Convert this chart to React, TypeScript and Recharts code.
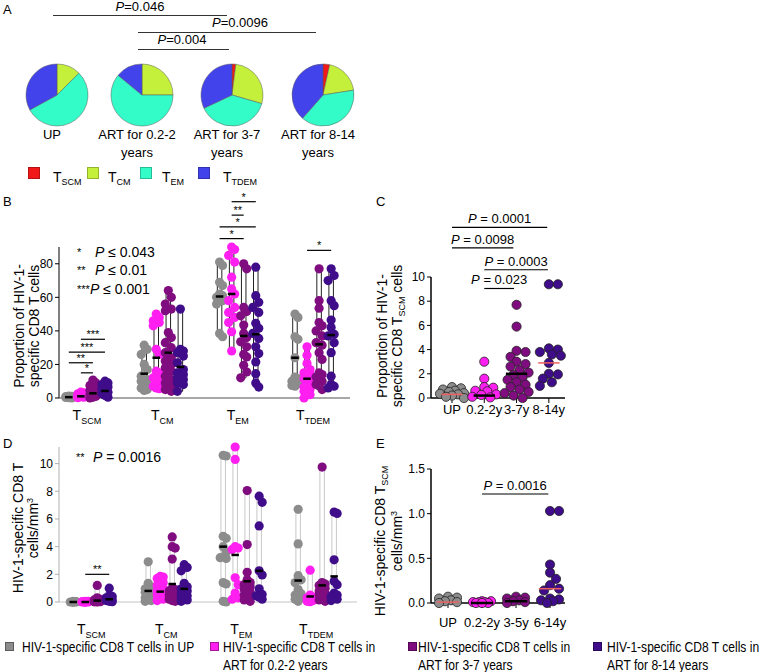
import React from "react";
import {
  PieChart,
  Pie,
  Cell,
  ScatterChart,
  Scatter,
  XAxis,
  YAxis,
  ReferenceArea,
  ReferenceLine,
} from "recharts";

const FONT = "Arial, 'Liberation Sans', sans-serif";

// ---- panel A: subset composition (%) ----
const subsetSubs = ["SCM", "CM", "EM", "TDEM"];
const subsetColors = ["#f01818", "#c4f03c", "#33fcc8", "#4343ec"];
const pieUP = [0, 12.5, 54.5, 33];
const pie02to2 = [0, 25, 61, 14];
const pie3to7 = [2, 27.5, 38.5, 32];
const pie8to14 = [3.5, 19, 39, 38.5];
const pieLabels = [["UP"], ["ART for 0.2-2", "years"], ["ART for 3-7", "years"], ["ART for 8-14", "years"]];

// ---- groups ----
const groupColors = ["#8c8c8c", "#ff1ff0", "#800d80", "#3f0c8a"];
const groupNames = [
  ["HIV-1-specific CD8 T cells in UP"],
  ["HIV-1-specific CD8 T cells in", "ART for 0.2-2 years"],
  ["HIV-1-specific CD8 T cells in", "ART for 3-7 years"],
  ["HIV-1-specific CD8 T cells in", "ART for 8-14 years"],
];
const groupOffsets = [-0.24, -0.08, 0.08, 0.24];

// ---- panel B: proportion (%) per subset [SCM, CM, EM, TDEM] ----
const propUP = [
  [1.2, 1.0, 0.8, 0.5, 0.5, 0.3, 0.2, 0],
  [31.5, 29, 26, 20, 17, 13, 11, 10, 9.5, 8, 6, 5, 4.5],
  [81, 79, 69, 67, 62, 61, 60, 58, 56, 38.5, 36.5],
  [50, 48, 36.5, 35, 24, 12.5, 11.5, 10, 8.5, 7.5, 7],
];
const prop02 = [
  [3.5, 3, 2.5, 2, 1.3, 1, 0.8, 0.5, 0.2],
  [50, 48, 46, 45, 43, 29, 26, 16, 15, 12, 11, 10, 8, 7, 6, 5.5],
  [90, 88.5, 85, 81, 72, 65, 62, 58, 54, 51, 48, 45, 39.5, 28],
  [30.5, 25.5, 20.5, 17, 15, 14, 11.5, 9.5, 6.5, 5, 4, 3, 2, 0],
];
const prop37 = [
  [10.7, 9, 7.5, 6.5, 5.5, 4.5, 3.5, 3, 2, 1, 0.5, 0],
  [64, 60, 56, 53, 52, 39, 36, 33, 30, 27, 24, 22, 20, 18, 16, 13, 11, 9, 7, 5, 4],
  [80, 77, 54, 51.5, 49, 43.5, 38.5, 36, 33.5, 30.5, 26, 24.5, 19.5, 15.5, 12],
  [77, 58, 53.5, 45, 43, 40, 37, 33, 31.5, 27, 23, 15, 14, 12.5, 10, 8, 5],
];
const prop814 = [
  [10, 9, 8, 6.5, 5.5, 4.5, 3.5, 2.5, 1.5, 0.5],
  [53, 29, 28, 27, 25, 21, 17, 15, 14, 13, 12, 11, 10, 9, 8, 4],
  [78, 61, 57, 54, 51, 44.5, 41.5, 38.5, 35.5, 30.5, 26.5, 21.5, 14.5, 9, 6.5],
  [77, 73, 70, 58, 55, 46.5, 42, 38, 37, 33, 27, 13, 8, 7, 6],
];
const propMedUP = [0.5, 14.5, 60.5, 24];
const propMed02 = [1, 24, 62, 11.5];
const propMed37 = [2.8, 27, 37, 32];
const propMed814 = [4.2, 18.5, 38, 37.5];
const propBrackets = [
  { subset: 0, from: 1, to: 3, level: 35, mark: "***" },
  { subset: 0, from: 0, to: 3, level: 27.4, mark: "***" },
  { subset: 0, from: 0, to: 2, level: 21, mark: "**" },
  { subset: 0, from: 1, to: 2, level: 15, mark: "*" },
  { subset: 2, from: 1, to: 3, level: 117, mark: "*" },
  { subset: 2, from: 1, to: 2, level: 109, mark: "**" },
  { subset: 2, from: 0, to: 3, level: 102, mark: "*" },
  { subset: 2, from: 0, to: 2, level: 95, mark: "*" },
  { subset: 3, from: 1, to: 3, level: 88, mark: "*" },
];

// ---- panel D: cells/mm3 per subset ----
const cntUP = [
  [0.05, 0.02, 0, 0, 0, 0, 0, 0],
  [2.9, 1.35, 1.1, 0.95, 0.8, 0.7, 0.6, 0.5, 0.3, 0.1, 0.05],
  [10.6, 10.55, 4.75, 4.6, 4.0, 3.6, 3.2, 3.15, 1.4, 1.3, 0.05, 0],
  [6.7, 4.2, 1.9, 1.6, 1.4, 0.9, 0.6, 0.5, 0.3, 0.2, 0.05],
];
const cnt02 = [
  [0.05, 0.05, 0.02, 0, 0, 0, 0, 0, 0],
  [1.85, 1.8, 1.7, 1.4, 1.2, 1.0, 0.8, 0.6, 0.5, 0.35, 0.2, 0.1],
  [11.2, 10.3, 4.0, 3.9, 3.8, 1.75, 1.25, 0.65, 0.3, 0.2],
  [2.3, 0.5, 0.35, 0.3, 0.2, 0.1, 0.05, 0.02],
];
const cnt37 = [
  [1.2, 0.3, 0.2, 0.15, 0.1, 0.08, 0.05, 0.03, 0.02, 0.01, 0],
  [4.7, 4.0, 3.9, 3.1, 1.0, 0.9, 0.8, 0.7, 0.6, 0.5, 0.4, 0.3, 0.2, 0.1, 0.05],
  [8.05, 4.15, 2.15, 1.6, 1.4, 1.25, 1.1, 0.9, 0.7, 0.5, 0.3, 0.15, 0.05],
  [9.75, 1.4, 1.3, 1.2, 1.0, 0.8, 0.65, 0.5, 0.3, 0.15, 0.05],
];
const cnt814 = [
  [1.0, 0.45, 0.4, 0.3, 0.2, 0.15, 0.1, 0.05, 0.02],
  [2.7, 2.5, 2.25, 1.35, 1.1, 0.95, 0.8, 0.6, 0.45, 0.3, 0.15, 0.05],
  [7.65, 7.2, 5.5, 2.25, 1.95, 0.95, 0.55, 0.45, 0.35, 0.2],
  [6.5, 6.4, 3.05, 1.5, 1.25, 0.65, 0.5, 0.4, 0.3, 0.2, 0.1],
];
const cntMedUP = [0, 0.8, 4.0, 1.55];
const cntMed02 = [0, 0.75, 3.4, 0.4];
const cntMed37 = [0.1, 1.3, 1.5, 1.2];
const cntMed814 = [0.2, 0.95, 2.25, 1.85];
const cntBrackets = [{ subset: 0, from: 1, to: 3, level: 2.0, mark: "**" }];

// ---- panel C: TSCM proportion ----
const scmPropCats = ["UP", "0.2-2y", "3-7y", "8-14y"];
const scmPropUP = [0.9, 0.8, 0.7, 0.6, 0.5, 0.4, 0.35, 0.3, 0.2, 0.1, 0];
const scmProp02 = [3.0, 1.6, 0.9, 0.85, 0.6, 0.55, 0.3, 0.25, 0.1, 0.05];
const scmProp37 = [7.7, 5.9, 3.9, 3.8, 3.4, 3.0, 2.8, 2.6, 2.3, 2.1, 1.9, 1.7, 1.5, 1.3, 1.1, 0.9, 0.7, 0.5, 0.4, 0.2, 0];
const scmProp814 = [9.4, 9.4, 4.1, 4.0, 3.8, 3.6, 3.5, 2.9, 2.0, 1.95, 1.6, 1.3, 1.0];
const scmPropMed = [0.3, 0.2, 2.0, 2.9];
const scmPropP = [
  { from: 0, to: 2.95, level: 14.1, text: "0.0001" },
  { from: 0, to: 1.9, level: 12.4, text: "0.0098" },
  { from: 1, to: 2.97, level: 10.6, text: "0.0003" },
  { from: 1, to: 1.92, level: 9.05, text: "0.023" },
];

// ---- panel E: TSCM cells/mm3 ----
const scmCntCats = ["UP", "0.2-2y", "3-5y", "6-14y"];
const scmCntUP = [0.07, 0.06, 0.05, 0.03, 0.02, 0.01, 0];
const scmCnt02 = [0.02, 0.02, 0.01, 0.01, 0.01, 0, 0, 0];
const scmCnt35 = [0.07, 0.06, 0.05, 0.03, 0.02, 0.01, 0];
const scmCnt614 = [1.03, 1.03, 0.43, 0.34, 0.27, 0.2, 0.16, 0.14, 0.05, 0.04, 0.03, 0.02, 0];
const scmCntMed = [0.01, 0, 0.02, 0.16];
const scmCntP = [{ from: 1, to: 2.95, level: 1.22, text: "0.0016" }];

const medianColors = ["#f06060", "#000", "#000", "#f06060"];

// simple beeswarm: horizontal pixel offsets so dots overlap less
function swarm(values: number[], pxPerUnit: number, r: number, maxPx: number): number[] {
  const placed: { x: number; y: number }[] = [];
  const cands: number[] = [0];
  for (let s = 3; s <= maxPx; s += 3) cands.push(s, -s);
  return values.map((v) => {
    const y = v * pxPerUnit;
    let best = 0;
    let bestD = -1;
    for (const c of cands) {
      let d = Infinity;
      for (const p of placed) d = Math.min(d, Math.hypot(p.x - c, p.y - y));
      if (d >= 1.6 * r) {
        best = c;
        break;
      }
      if (d > bestD) {
        bestD = d;
        best = c;
      }
    }
    placed.push({ x: best, y });
    return best;
  });
}

function SubsetTick(props: any) {
  const { x, y, payload, dy } = props;
  const sub = subsetSubs[payload.value];
  if (!sub) return null;
  return (
    <text x={x} y={y + dy} textAnchor="middle" fontFamily={FONT} fontSize={14} fill="#000">
      <tspan>T</tspan>
      <tspan fontSize={9} dy={4}>{sub}</tspan>
    </text>
  );
}

function CatTick(props: any) {
  const { x, y, payload, dy, labels } = props;
  return (
    <text x={x} y={y + dy} textAnchor="middle" fontFamily={FONT} fontSize={13} fill="#000">
      {labels[payload.value]}
    </text>
  );
}

function markLabel(text: string, size: number, gap: number, italicP: boolean) {
  return (p: any) => {
    const vb = p.viewBox;
    if (!vb) return null;
    return (
      <text x={vb.x + vb.width / 2} y={vb.y - gap} textAnchor="middle" fontFamily={FONT} fontSize={size} fill="#000">
        {italicP ? (
          <>
            <tspan fontStyle="italic">P</tspan>
            <tspan>{" = " + text}</tspan>
          </>
        ) : (
          text
        )}
      </text>
    );
  };
}

function VLabel({ cx, cy, children }: { cx: number; cy: number; children: React.ReactNode }) {
  return (
    <div
      style={{
        position: "absolute",
        left: cx,
        top: cy,
        transform: "translate(-50%, -50%) rotate(-90deg)",
        whiteSpace: "nowrap",
        textAlign: "center",
        fontSize: 14,
        lineHeight: "15px",
        fontFamily: FONT,
      }}
    >
      {children}
    </div>
  );
}

const subStyle: React.CSSProperties = { fontSize: 9, position: "relative", top: 3 };
const supStyle: React.CSSProperties = { fontSize: 9, position: "relative", top: -5 };

function GroupedPanel(props: any) {
  const { sets, medians, brackets, xDomain, yDomain, yTicks, pxX, pxY, width, height, margin, xAxisH, axisColor, yAxisColor, barStroke, labelDy, xAxisW } = props;
  const series = sets.map((groupSets: number[][], g: number) =>
    groupSets.flatMap((vals, s) => {
      const offs = swarm(vals, pxY, 4.6, 5);
      return vals.map((v, i) => ({ x: s + groupOffsets[g] + offs[i] / pxX, y: v }));
    })
  );
  return (
    <ScatterChart width={width} height={height} margin={margin}>
      <XAxis
        type="number"
        dataKey="x"
        domain={xDomain}
        ticks={[0, 1, 2, 3]}
        interval={0}
        height={xAxisH}
        axisLine={{ stroke: axisColor, strokeWidth: xAxisW }}
        tickLine={false}
        tickSize={0}
        tick={(p: any) => <SubsetTick {...p} dy={labelDy} />}
      />
      <YAxis
        type="number"
        dataKey="y"
        domain={yDomain}
        ticks={yTicks}
        width={30}
        axisLine={{ stroke: yAxisColor }}
        tickLine={{ stroke: yAxisColor }}
        tickSize={4}
        tick={{ fontSize: 12, fill: "#000", fontFamily: FONT }}
      />
      {sets.map((groupSets: number[][], g: number) =>
        groupSets.map((vals, s) => (
          <ReferenceArea
            key={`bar-${g}-${s}`}
            x1={s + groupOffsets[g] - 0.03}
            x2={s + groupOffsets[g] + 0.03}
            y1={Math.min(...vals)}
            y2={Math.max(...vals)}
            fill="#fff"
            fillOpacity={1}
            stroke={barStroke}
            strokeWidth={1}
            ifOverflow="visible"
          />
        ))
      )}
      {series.map((data: any[], g: number) => (
        <Scatter
          key={`grp-${g}`}
          data={data}
          isAnimationActive={false}
          shape={(p: any) => <circle cx={p.cx} cy={p.cy} r={4.6} fill={groupColors[g]} />}
        />
      ))}
      {medians.map((meds: number[], g: number) =>
        meds.map((m, s) => (
          <ReferenceLine
            key={`med-${g}-${s}`}
            segment={[
              { x: s + groupOffsets[g] - 0.05, y: m },
              { x: s + groupOffsets[g] + 0.05, y: m },
            ]}
            stroke="#000"
            strokeWidth={2.5}
            ifOverflow="visible"
            zIndex={700}
          />
        ))
      )}
      {brackets.map((b: any, i: number) => (
        <ReferenceLine
          key={`br-${i}`}
          segment={[
            { x: b.subset + groupOffsets[b.from], y: b.level },
            { x: b.subset + groupOffsets[b.to], y: b.level },
          ]}
          stroke="#000"
          strokeWidth={1.2}
          ifOverflow="visible"
          label={markLabel(b.mark, 11, 1, false)}
        />
      ))}
    </ScatterChart>
  );
}

function SinglePanel(props: any) {
  const { sets, medians, cats, brackets, xDomain, yDomain, yTicks, yFmt, pxX, pxY, spread, width, height, margin, xAxisH, labelDy } = props;
  const series = sets.map((vals: number[], c: number) => {
    const offs = swarm(vals, pxY, 4.6, spread);
    return vals.map((v, i) => ({ x: c + offs[i] / pxX, y: v }));
  });
  return (
    <ScatterChart width={width} height={height} margin={margin}>
      <XAxis
        type="number"
        dataKey="x"
        domain={xDomain}
        ticks={[0, 1, 2, 3]}
        interval={0}
        height={xAxisH}
        axisLine={{ stroke: "#000", strokeWidth: 1.5 }}
        tickLine={{ stroke: "#000" }}
        tickSize={5}
        tick={(p: any) => <CatTick {...p} dy={labelDy} labels={cats} />}
      />
      <YAxis
        type="number"
        dataKey="y"
        domain={yDomain}
        ticks={yTicks}
        width={30}
        axisLine={{ stroke: "#000", strokeWidth: 1.5 }}
        tickLine={{ stroke: "#000" }}
        tickSize={4}
        tickFormatter={yFmt}
        tick={{ fontSize: 12, fill: "#000", fontFamily: FONT }}
      />
      {series.map((data: any[], c: number) => (
        <Scatter
          key={`cat-${c}`}
          data={data}
          isAnimationActive={false}
          shape={(p: any) => (
            <circle cx={p.cx} cy={p.cy} r={4.6} fill={groupColors[c]} stroke="#222" strokeWidth={0.8} />
          )}
        />
      ))}
      {medians.map((m: number, c: number) => (
        <ReferenceLine
          key={`med-${c}`}
          segment={[
            { x: c - 0.33, y: m },
            { x: c + 0.33, y: m },
          ]}
          stroke={medianColors[c]}
          strokeWidth={medianColors[c] === "#000" ? 2.5 : 1.5}
          ifOverflow="visible"
          zIndex={700}
        />
      ))}
      {brackets.map((b: any, i: number) => (
        <ReferenceLine
          key={`p-${i}`}
          segment={[
            { x: b.from, y: b.level },
            { x: b.to, y: b.level },
          ]}
          stroke="#000"
          strokeWidth={1.2}
          ifOverflow="visible"
          label={markLabel(b.text, 13, 4, true)}
        />
      ))}
    </ScatterChart>
  );
}

const abs = (left: number, top: number): React.CSSProperties => ({ position: "absolute", left, top });

export default function App() {
  const pies = [pieUP, pie02to2, pie3to7, pie8to14];
  const pieX = [52, 137, 227, 318];
  const pBars = [
    { text: "0.046", left: 53, width: 174, lineTop: 15, textTop: 0, cx: 140 },
    { text: "0.0096", left: 138, width: 178, lineTop: 32, textTop: 16, cx: 240 },
    { text: "0.004", left: 138, width: 91, lineTop: 49, textTop: 33, cx: 182 },
  ];
  const legendA = [
    { sq: 28, tx: 53 },
    { sq: 87, tx: 108 },
    { sq: 140, tx: 162 },
    { sq: 198, tx: 223 },
  ];
  const legendBottom = [
    { sq: 5, tx: 22 },
    { sq: 210, tx: 223 },
    { sq: 408, tx: 418 },
    { sq: 593, tx: 607 },
  ];
  const starText = [
    { stars: "*", p: "P \u2264 0.043", top: 244, px: 95 },
    { stars: "**", p: "P \u2264 0.01", top: 262, px: 95 },
    { stars: "***", p: "P \u2264 0.001", top: 281, px: 90 },
  ];

  return (
    <div
      style={{
        position: "absolute",
        left: 0,
        top: 0,
        width: 760,
        height: 672,
        background: "#fff",
        fontFamily: FONT,
        color: "#000",
        overflow: "hidden",
      }}
    >
      {/* panel letters */}
      {[
        ["A", 3, 2],
        ["B", 3, 194],
        ["C", 376, 194],
        ["D", 3, 436],
        ["E", 376, 436],
      ].map(([t, l, tp]) => (
        <div key={t as string} style={{ ...abs(l as number, tp as number), fontSize: 13 }}>
          {t}
        </div>
      ))}

      {/* A: p-value bars */}
      {pBars.map((b) => (
        <React.Fragment key={b.text}>
          <div style={{ ...abs(b.left, b.lineTop), width: b.width, borderTop: "1.5px solid #333" }} />
          <div style={{ ...abs(b.cx, b.textTop), transform: "translateX(-50%)", fontSize: 13, lineHeight: "14px", whiteSpace: "nowrap" }}>
            <i>P</i>={b.text}
          </div>
        </React.Fragment>
      ))}

      {/* A: pies */}
      <div style={abs(0, 0)}>
        <PieChart width={360} height={130}>
          {pies.map((shares, k) => (
            <Pie
              key={`pie-${k}`}
              data={shares
                .map((v, i) => ({ name: "T" + subsetSubs[i], value: v, color: subsetColors[i] }))
                .filter((d) => d.value > 0)}
              dataKey="value"
              cx={pieX[k]}
              cy={90}
              outerRadius={31}
              startAngle={90}
              endAngle={-270}
              stroke="#5a5a5a"
              strokeWidth={0.5}
              isAnimationActive={false}
            >
              {shares
                .map((v, i) => ({ v, c: subsetColors[i] }))
                .filter((d) => d.v > 0)
                .map((d, i) => (
                  <Cell key={`c-${i}`} fill={d.c} />
                ))}
            </Pie>
          ))}
        </PieChart>
      </div>
      {pieLabels.map((lines, k) => (
        <div
          key={`pl-${k}`}
          style={{
            ...abs(pieX[k], 126),
            transform: "translateX(-50%)",
            textAlign: "center",
            fontSize: 13,
            lineHeight: "18px",
            whiteSpace: "nowrap",
          }}
        >
          {lines.map((l) => (
            <div key={l}>{l}</div>
          ))}
        </div>
      ))}
      {legendA.map((it, i) => (
        <React.Fragment key={`la-${i}`}>
          <div
            style={{
              ...abs(it.sq, 167),
              width: 10,
              height: 10,
              background: subsetColors[i],
              border: "1px solid rgba(0,0,0,0.25)",
            }}
          />
          <div style={{ ...abs(it.tx, 169), fontSize: 14, whiteSpace: "nowrap" }}>
            T<span style={subStyle}>{subsetSubs[i]}</span>
          </div>
        </React.Fragment>
      ))}

      {/* B */}
      <div style={abs(0, 190)}>
        <GroupedPanel
          sets={[propUP, prop02, prop37, prop814]}
          medians={[propMedUP, propMed02, propMed37, propMed814]}
          brackets={propBrackets}
          xDomain={[-0.37, 3.49]}
          yDomain={[0, 90]}
          yTicks={[0, 20, 40, 60, 80]}
          pxX={75.4}
          pxY={1.68}
          width={360}
          height={240}
          margin={{ top: 57, right: 10, bottom: 2, left: 29 }}
          xAxisH={30}
          axisColor="#8a8a8a"
          xAxisW={1.5}
          yAxisColor="#000"
          barStroke="#222"
          labelDy={20}
        />
      </div>
      {starText.map((s) => (
        <React.Fragment key={s.stars}>
          <div style={{ ...abs(77, s.top + 2), fontSize: 11 }}>{s.stars}</div>
          <div style={{ ...abs(s.px, s.top), fontSize: 14, whiteSpace: "nowrap" }}>
            <i>P</i>
            {s.p.slice(1)}
          </div>
        </React.Fragment>
      ))}
      <VLabel cx={27} cy={326}>
        <div>Proportion of HIV-1-</div>
        <div>specific CD8 T cells</div>
      </VLabel>

      {/* C */}
      <div style={abs(375, 200)}>
        <SinglePanel
          sets={[scmPropUP, scmProp02, scmProp37, scmProp814]}
          medians={scmPropMed}
          cats={scmPropCats}
          brackets={scmPropP}
          xDomain={[-0.65, 3.5]}
          yDomain={[0, 10]}
          yTicks={[0, 2, 4, 6, 8, 10]}
          pxX={32.3}
          pxY={12.1}
          spread={12}
          width={200}
          height={225}
          margin={{ top: 77, right: 10, bottom: 2, left: 26 }}
          xAxisH={25}
          labelDy={9}
        />
      </div>
      <VLabel cx={391} cy={336}>
        <div>Proportion of HIV-1-</div>
        <div>
          specific CD8 T<span style={subStyle}>SCM</span> cells
        </div>
      </VLabel>

      {/* D */}
      <div style={abs(0, 430)}>
        <GroupedPanel
          sets={[cntUP, cnt02, cnt37, cnt814]}
          medians={[cntMedUP, cntMed02, cntMed37, cntMed814]}
          brackets={cntBrackets}
          xDomain={[-0.43, 3.545]}
          yDomain={[0, 11.2]}
          yTicks={[0, 2, 4, 6, 8, 10]}
          pxX={75}
          pxY={13.84}
          width={365}
          height={220}
          margin={{ top: 17, right: 8, bottom: 8, left: 29 }}
          xAxisH={40}
          axisColor="#c4c4c4"
          xAxisW={1}
          yAxisColor="#b0b0b0"
          barStroke="#c8c8c8"
          labelDy={30}
        />
      </div>
      <div style={{ ...abs(76, 451), fontSize: 11 }}>**</div>
      <div style={{ ...abs(93, 449), fontSize: 14, whiteSpace: "nowrap" }}>
        <i>P</i> = 0.0016
      </div>
      <VLabel cx={27} cy={528}>
        <div>HIV-1-specific CD8 T</div>
        <div>
          cells/mm<span style={supStyle}>3</span>
        </div>
      </VLabel>

      {/* E */}
      <div style={abs(375, 440)}>
        <SinglePanel
          sets={[scmCntUP, scmCnt02, scmCnt35, scmCnt614]}
          medians={scmCntMed}
          cats={scmCntCats}
          brackets={scmCntP}
          xDomain={[-0.5, 3.44]}
          yDomain={[0, 1.5]}
          yTicks={[0, 0.5, 1, 1.5]}
          yFmt={(v: number) => v.toFixed(1)}
          pxX={34}
          pxY={89.3}
          spread={9}
          width={200}
          height={200}
          margin={{ top: 29, right: 10, bottom: 7, left: 26 }}
          xAxisH={30}
          labelDy={17}
        />
      </div>
      <VLabel cx={390} cy={541}>
        <div>
          HIV-1-specific CD8 T<span style={subStyle}>SCM</span>
        </div>
        <div>
          cells/mm<span style={supStyle}>3</span>
        </div>
      </VLabel>

      {/* bottom legend */}
      {legendBottom.map((it, i) => (
        <React.Fragment key={`lb-${i}`}>
          <div
            style={{
              ...abs(it.sq, 642),
              width: 7,
              height: 7,
              background: groupColors[i],
              border: "1px solid rgba(0,0,0,0.35)",
            }}
          />
          <div
            style={{
              ...abs(it.tx, 638),
              fontSize: 14,
              lineHeight: "18px",
              whiteSpace: "nowrap",
              transform: "scaleX(0.86)",
              transformOrigin: "left top",
            }}
          >
            {groupNames[i].map((l) => (
              <div key={l}>{l}</div>
            ))}
          </div>
        </React.Fragment>
      ))}
    </div>
  );
}
